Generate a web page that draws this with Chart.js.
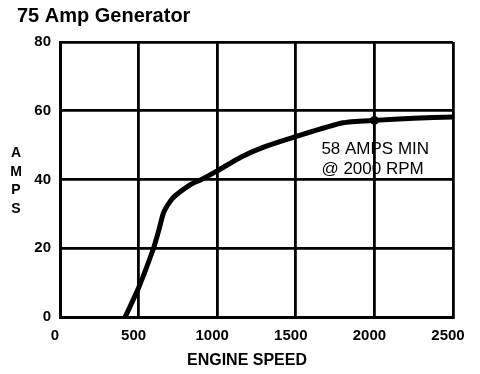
<!DOCTYPE html>
<html>
<head>
<meta charset="utf-8">
<script src="https://cdn.jsdelivr.net/npm/chart.js@4/dist/chart.umd.min.js"></script>
<style>
  html, body { margin: 0; padding: 0; background: #fff; }
  #chart { display: block; }
</style>
</head>
<body>
<canvas id="chart" width="480" height="374"></canvas>
<script>
// engine speed (rpm) vs generator output (amps)
const rpm = [415, 500, 595, 630, 660, 715, 830, 900, 1000, 1150, 1300, 1500, 1800, 2000, 2250, 2500];
const amps = [0, 8.5, 20, 25.5, 30.5, 34.5, 38.5, 40, 42.5, 46.5, 49.5, 52.5, 56.5, 57.2, 57.8, 58.2];

const markerRpm = [2000];
const markerAmps = [57.2];

const xTicks = [0, 500, 1000, 1500, 2000, 2500];
const yTicks = [0, 20, 40, 60, 80];

const titleText = '75 Amp Generator';
const yLabel = 'AMPS';
const xLabel = 'ENGINE SPEED';
const noteLines = ['58 AMPS MIN', '@ 2000 RPM'];

const FONT = '"Liberation Sans", Arial, Helvetica, sans-serif';

const textPlugin = {
  id: 'textPlugin',
  afterDraw(chart) {
    const ctx = chart.ctx;
    ctx.save();
    ctx.fillStyle = '#000';
    ctx.textBaseline = 'alphabetic';

    ctx.font = `bold 20px ${FONT}`;
    ctx.textAlign = 'left';
    ctx.fillText(titleText, 17, 22);

    ctx.font = `bold 14px ${FONT}`;
    ctx.textAlign = 'center';
    yLabel.split('').forEach((ch, i) => ctx.fillText(ch, 16, 157 + i * 18.5));

    ctx.font = `bold 16px ${FONT}`;
    ctx.fillText(xLabel, 247, 365);

    const x = chart.scales.x;
    const y = chart.scales.y;
    const nx = x.getPixelForValue(2000) - 53;
    const ny = y.getPixelForValue(markerAmps[0]) + 34;
    ctx.font = `17px ${FONT}`;
    ctx.textAlign = 'left';
    ctx.fillText(noteLines[0], nx, ny);
    ctx.fillText(noteLines[1], nx, ny + 20);
    ctx.restore();
  }
};

new Chart(document.getElementById('chart'), {
  type: 'line',
  data: {
    datasets: [
      {
        data: rpm.map((r, i) => ({ x: r, y: amps[i] })),
        borderColor: '#000',
        borderWidth: 5,
        pointRadius: 0,
        tension: 0.2,
        fill: false
      },
      {
        data: markerRpm.map((r, i) => ({ x: r, y: markerAmps[i] })),
        showLine: false,
        pointRadius: 4,
        pointBackgroundColor: '#000',
        pointBorderColor: '#000'
      }
    ]
  },
  options: {
    responsive: false,
    animation: false,
    layout: { padding: { left: 0, right: 27, top: 42, bottom: 0 } },
    plugins: {
      legend: { display: false },
      tooltip: { enabled: false }
    },
    scales: {
      x: {
        type: 'linear',
        min: 0,
        max: 2500,
        afterBuildTicks: (scale) => { scale.ticks = xTicks.map((v) => ({ value: v })); },
        afterFit: (scale) => { scale.height = 57; },
        grid: { color: '#000', lineWidth: 2.8, drawTicks: false },
        border: { color: '#000', width: 3 },
        ticks: {
          color: '#000',
          padding: 10,
          labelOffset: -5,
          maxRotation: 0,
          callback: (value) => String(value),
          font: { family: FONT, size: 15, weight: 'bold' }
        }
      },
      y: {
        min: 0,
        max: 80,
        afterBuildTicks: (scale) => { scale.ticks = yTicks.map((v) => ({ value: v })); },
        afterFit: (scale) => { scale.width = 60; },
        grid: { color: '#000', lineWidth: 2.8, drawTicks: false },
        border: { color: '#000', width: 3 },
        ticks: {
          color: '#000',
          padding: 9,
          callback: (value) => String(value),
          font: { family: FONT, size: 15, weight: 'bold' }
        }
      }
    }
  },
  plugins: [textPlugin]
});
</script>
</body>
</html>
